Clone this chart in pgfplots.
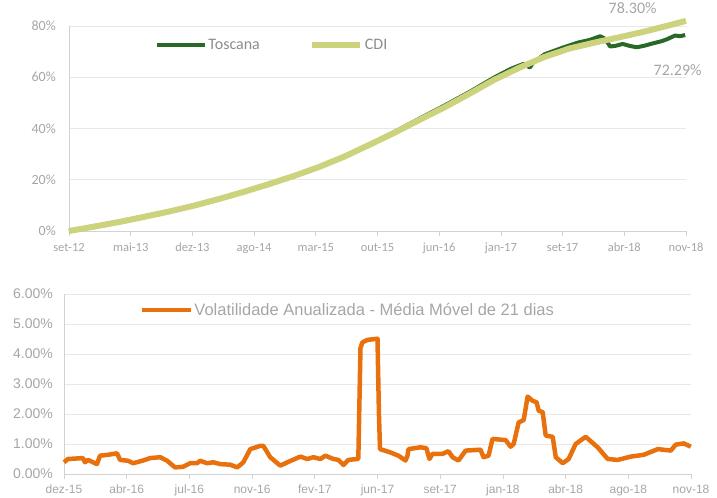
\documentclass[border=0pt]{standalone}
\usepackage{fontspec}
\setmainfont{Carlito}
\newfontfamily\arialfont{Liberation Sans}
\usepackage{pgfplots}
\pgfplotsset{compat=1.18}
\definecolor{tosc}{RGB}{40,105,40}
\definecolor{cdi}{RGB}{205,210,125}
\definecolor{vol}{RGB}{232,113,14}
\definecolor{tickc}{RGB}{166,166,166}
\definecolor{legc}{RGB}{140,140,140}
\definecolor{gridc}{RGB}{232,232,232}
\definecolor{axl}{RGB}{210,210,210}
\begin{document}
\begin{tikzpicture}
\useasboundingbox (0,0) rectangle (717bp,498bp);
% ---------------- top chart ----------------
\begin{axis}[
  at={(69bp,267bp)}, anchor=south west,
  scale only axis, width=617bp, height=205bp,
  xmin=0, xmax=74, ymin=0, ymax=80,
  clip=false,
  axis x line*=bottom, axis y line*=left,
  axis line style={draw=axl, line width=0.75bp},
  xtick={0,7.4,14.8,22.2,29.6,37,44.4,51.8,59.2,66.6,74},
  xticklabels={set-12,mai-13,dez-13,ago-14,mar-15,out-15,jun-16,jan-17,set-17,abr-18,nov-18},
  ytick={0,20,40,60,80},
  yticklabels={0\%,20\%,40\%,60\%,80\%},
  ymajorgrids, major grid style={draw=gridc, line width=0.75bp},
  tick align=outside, major tick length=5bp,
  xtick style={draw=axl, line width=0.75bp},
  ytick style={draw=none},
  xticklabel style={font=\fontsize{12.5bp}{14bp}\selectfont, text=tickc, inner sep=0pt, anchor=north, yshift=-7bp},
  yticklabel style={font=\fontsize{14bp}{16bp}\selectfont, text=tickc, inner sep=0pt, anchor=east, xshift=-8bp},
  legend columns=2,
  legend style={at={(0.139,0.907)}, anchor=west, draw=none, fill=none, inner sep=0pt,
    font=\fontsize{16bp}{18bp}\selectfont, text=legc,
    nodes={inner sep=1.5bp},
    /tikz/every even column/.append style={column sep=48bp}},
  legend image code/.code={\draw[#1] (0bp,0bp) -- (48bp,0bp);},
]
\addplot[tosc, line width=4bp, line join=round] coordinates {
(0,0) (3,1.9) (6,3.7) (9,5.7) (12,7.7) (15,10.0) (18,12.6) (21,15.5) (24,18.5)
(27,21.5) (30,24.9) (33,28.9) (36,33.6) (39,38.6) (42,43.8) (45,48.9) (48,54.2)
(51,59.9) (53,63.3) (54.5,65.2) (55.3,63.8) (55.6,65.5) (57,68.9) (59,71.3)
(61,73.5) (62.5,74.6) (63.7,76.0) (64.3,75.0) (64.9,72.0) (65.6,72.3) (66.4,73.0)
(67.3,72.2) (68.1,71.7) (69.0,72.3) (70.0,73.2) (71.0,74.0) (71.7,74.8) (72.7,76.3)
(73.3,76.0) (73.9,76.5)
};
\addlegendentry{Toscana}
\addplot[cdi, line width=6bp, line join=round] coordinates {
(0,0) (3,1.7) (6,3.5) (9,5.5) (12,7.6) (15,9.9) (18,12.5) (21,15.3) (24,18.3)
(27,21.5) (30,25.0) (33,29.0) (36,33.6) (39,38.3) (42,43.3) (45,48.2) (48,53.5)
(51,59.0) (54,63.7) (57,67.9) (60,71.2) (63,73.5) (66,75.6) (69,77.8) (72,80.3) (74,82.0)
};
\addlegendentry{CDI}
\node[font=\fontsize{16bp}{18bp}\selectfont, text=tickc] at (axis cs:67.6,87) {78.30\%};
\node[font=\fontsize{16bp}{18bp}\selectfont, text=tickc] at (axis cs:73.0,62.6) {72.29\%};
\end{axis}
% ---------------- bottom chart ----------------
\begin{axis}[
  at={(64bp,24bp)}, anchor=south west,
  scale only axis, width=627bp, height=180bp,
  xmin=0, xmax=35, ymin=0, ymax=6,
  clip=false,
  axis x line*=bottom, axis y line*=left,
  axis line style={draw=axl, line width=0.75bp},
  xtick={0,3.5,7,10.5,14,17.5,21,24.5,28,31.5,35},
  xticklabels={dez-15,abr-16,jul-16,nov-16,fev-17,jun-17,set-17,jan-18,abr-18,ago-18,nov-18},
  ytick={0,1,2,3,4,5,6},
  yticklabels={0.00\%,1.00\%,2.00\%,3.00\%,4.00\%,5.00\%,6.00\%},
  ymajorgrids, major grid style={draw=gridc, line width=0.75bp},
  tick align=outside, major tick length=5bp,
  xtick style={draw=axl, line width=0.75bp},
  ytick style={draw=none},
  xticklabel style={font=\arialfont\fontsize{12bp}{14bp}\selectfont, text=tickc, inner sep=0pt, anchor=north, yshift=-6bp},
  yticklabel style={font=\arialfont\fontsize{14bp}{16bp}\selectfont, text=tickc, inner sep=0pt, anchor=east, xshift=-6bp},
  legend style={at={(0.120,0.911)}, anchor=west, draw=none, fill=none, inner sep=0pt,
    font=\arialfont\fontsize{16.5bp}{18bp}\selectfont, text=tickc,
    nodes={inner sep=1.5bp}},
  legend image code/.code={\draw[#1] (0bp,0bp) -- (49bp,0bp);},
]
\addplot[vol, line width=4.5bp, line join=round] coordinates {
(0,0.39) (0.22,0.50) (1.06,0.53) (1.17,0.39) (1.34,0.47) (1.84,0.33) (2.01,0.61)
(2.46,0.64) (2.96,0.69) (3.13,0.47) (3.58,0.44) (3.86,0.36) (4.36,0.44) (4.81,0.53)
(5.37,0.56) (5.76,0.44) (6.20,0.22) (6.65,0.24) (7.04,0.36) (7.43,0.36) (7.60,0.44)
(7.99,0.36) (8.33,0.39) (8.72,0.33) (9.28,0.31) (9.67,0.22) (10.01,0.39) (10.40,0.83)
(10.96,0.94) (11.12,0.94) (11.29,0.78) (11.51,0.56) (12.07,0.28) (12.47,0.39)
(13.19,0.58) (13.58,0.50) (13.92,0.56) (14.31,0.50) (14.59,0.61) (15.04,0.50)
(15.32,0.47) (15.60,0.30) (15.87,0.47) (16.38,0.50) (16.43,0.52) (16.55,4.20)
(16.66,4.39) (16.94,4.47) (17.50,4.51) (17.58,2.00) (17.64,0.83) (18.22,0.72)
(18.67,0.61) (19.06,0.45) (19.17,0.60) (19.23,0.83) (19.90,0.89) (20.23,0.86)
(20.40,0.50) (20.57,0.67) (21.13,0.67) (21.46,0.76) (21.69,0.56) (22.02,0.45)
(22.42,0.78) (23.25,0.81) (23.42,0.56) (23.70,0.61) (23.92,1.17) (24.65,1.13)
(24.93,0.91) (25.10,1.00) (25.38,1.72) (25.66,1.80) (25.88,2.58) (26.16,2.44)
(26.38,2.39) (26.50,2.11) (26.72,2.06) (26.89,1.28) (27.28,1.24) (27.45,0.56)
(27.84,0.36) (28.17,0.50) (28.56,1.00) (29.12,1.24) (29.79,0.89) (30.35,0.50)
(30.91,0.47) (31.64,0.58) (32.36,0.64) (33.15,0.83) (33.87,0.78) (34.15,0.98)
(34.60,1.02) (34.99,0.91)
};
\addlegendentry{Volatilidade Anualizada - Média Móvel de 21 dias}
\end{axis}
\end{tikzpicture}
\end{document}
